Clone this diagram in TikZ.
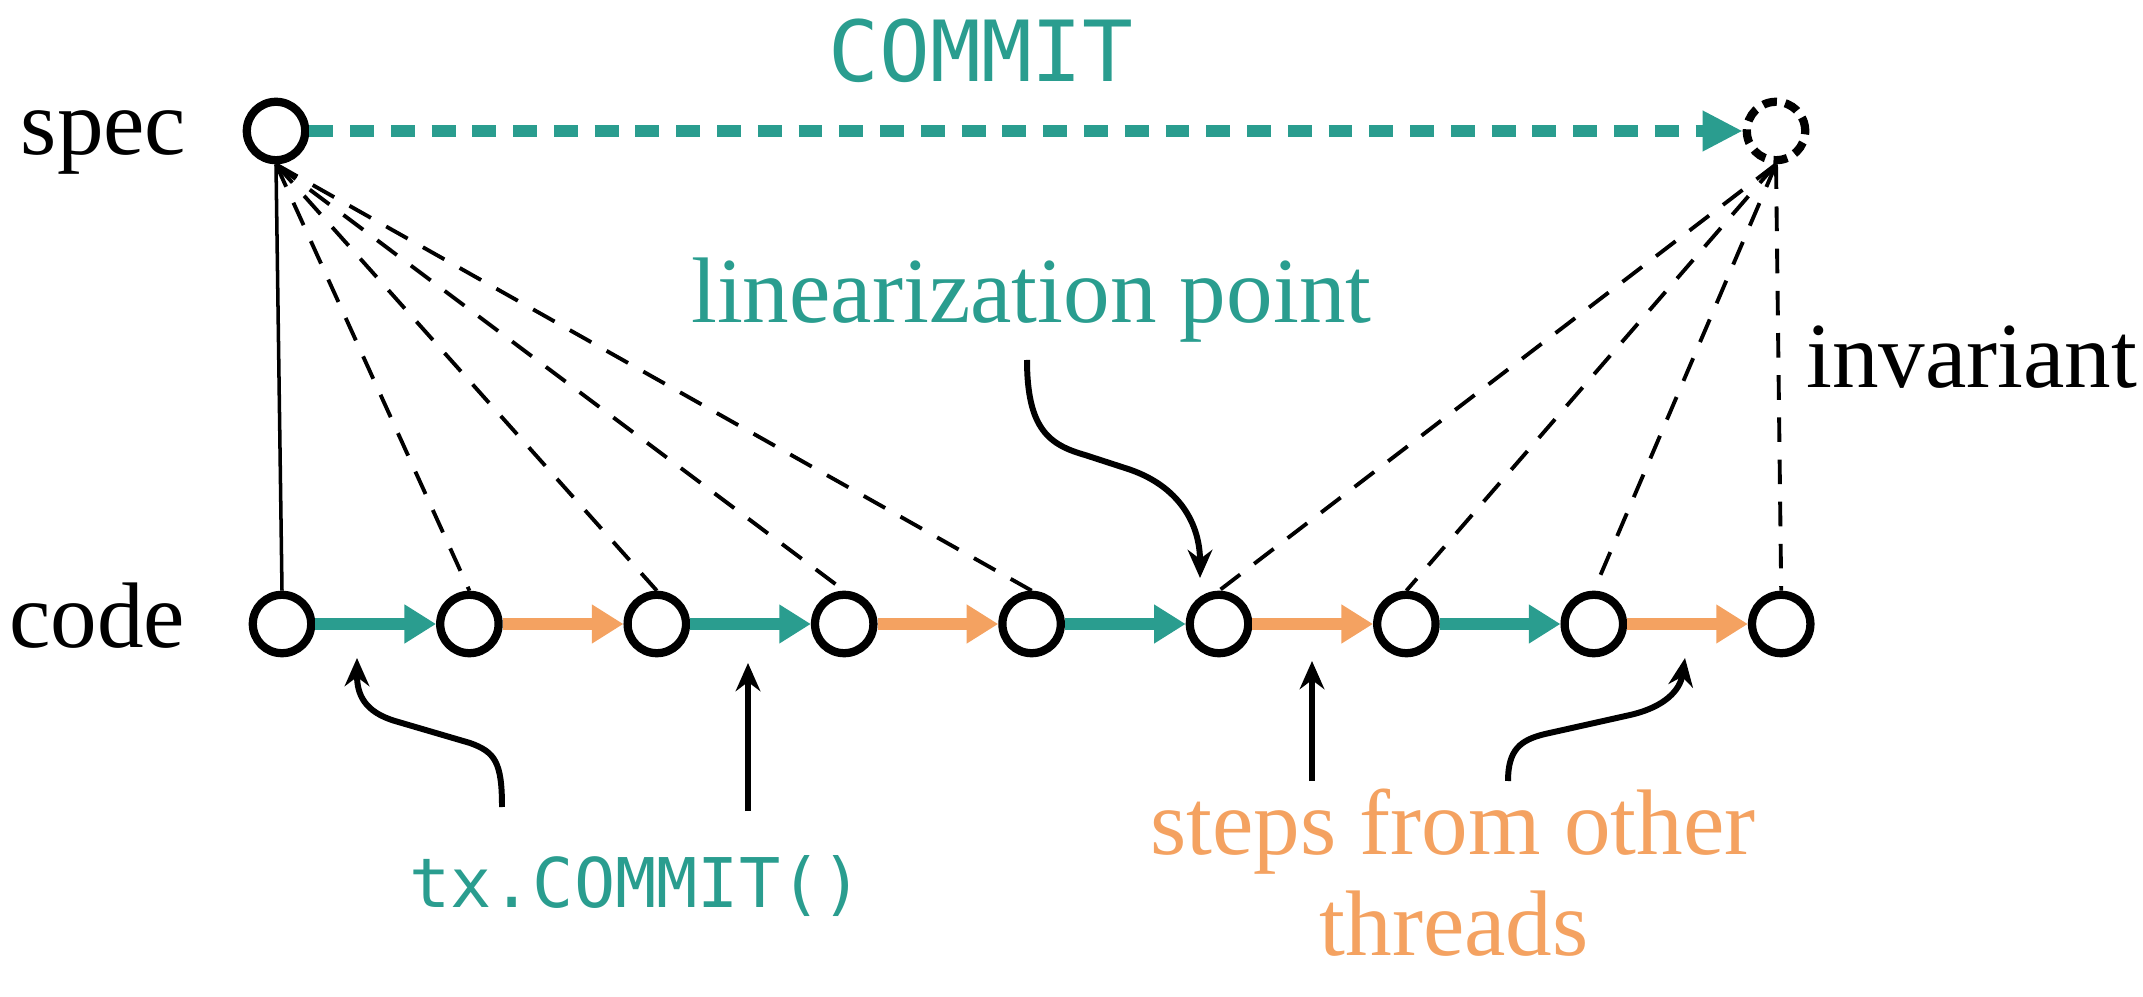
\documentclass[tikz,border=0pt]{standalone}
\usepackage{fontspec}
\setmainfont{Liberation Serif}
\setmonofont{DejaVu Sans Mono}
\definecolor{stepteal}{HTML}{2A9D8F}
\definecolor{steporange}{HTML}{F4A261}
\usetikzlibrary{arrows.meta, positioning, calc}

\begin{document}
\begin{tikzpicture}[
    state/.style={circle, draw, line width=2.35pt, minimum size=0.584cm, inner sep=0pt},
    ghost/.style={state, dash pattern=on 4pt off 2.4pt},
    own/.style={line width=3.6pt, stepteal, -{Triangle[length=9pt,width=10.5pt]}},
    other/.style={own, steporange},
    link/.style={line width=1.1pt, dash pattern=on 7pt off 5pt},
    pointer/.style={line width=1.7pt, -{Stealth[length=8pt,width=7pt]}},
    lbl/.style={font=\fontsize{26.5}{28.7}\selectfont, inner sep=0pt},
    mono/.style={font=\ttfamily\fontsize{19.5}{23}\selectfont, inner sep=0pt, stepteal}
  ]
  \useasboundingbox (0,0) rectangle (21.43,-9.97);

  % States
  \node[state] (spec) at (2.76,-1.31) {};
  \node[ghost] (post) at (17.76,-1.31) {};
  \foreach \i in {1,...,9}
    \node[state] (c\i) at ({2.82+1.874*(\i-1)},-6.24) {};

  % Labels
  \node[lbl, anchor=base east] (spec-lbl) at (1.87,-1.55) {spec};
  \node[lbl, anchor=base east] (code-lbl) at (1.86,-6.48) {code};
  \node[mono, font=\ttfamily\fontsize{24}{28}\selectfont, anchor=base] (commit-lbl) at (9.81,-0.82) {COMMIT};
  \node[lbl, stepteal, anchor=base east] (lin-lbl) at (13.72,-3.23) {linearization point};
  \node[lbl, anchor=base east] (inv-lbl) at (21.38,-3.88) {invariant};
  \node[mono, anchor=base] (tx-lbl) at (6.36,-9.07) {tx.COMMIT()};
  \node[lbl, steporange, anchor=base] (steps-lbl) at (14.53,-8.54) {steps from other};
  \node[lbl, steporange, anchor=base] (threads-lbl) at (14.54,-9.55) {threads};

  % Steps
  \foreach \i/\j/\s in {1/2/own, 2/3/other, 3/4/own, 4/5/other, 5/6/own, 6/7/other, 7/8/own, 8/9/other}
    \draw[\s] (c\i) -- (c\j);

  % Abstraction
  \draw[line width=1pt] (spec.south) -- (c1.north);
  \foreach \i in {2,...,5}
    \draw[link] (spec.south) -- (c\i.north);
  \foreach \i in {6,...,9}
    \draw[link] (post.south) -- (c\i.north);
  \draw[line width=3.3pt, stepteal, dash pattern=on 6.8pt off 4.8pt, -{Triangle[length=11.4pt,width=10.8pt]}] (spec) -- (post);

  % Pointers
  \coordinate (lin-foot) at (10.27,-3.60);
  \coordinate (lin-tip) at (12.00,-5.78);
  \coordinate (tx-foot) at (5.02,-8.07);
  \coordinate (tx-tip) at (3.57,-6.58);
  \coordinate (mid-foot) at (7.48,-8.11);
  \coordinate (mid-tip) at (7.48,-6.63);
  \coordinate (other-foot) at (13.12,-7.81);
  \coordinate (other-tip) at (13.12,-6.61);
  \coordinate (last-foot) at (15.08,-7.81);
  \coordinate (last-tip) at (16.85,-6.58);

  \draw[pointer] (lin-foot) .. controls (10.27,-4.30) and (10.50,-4.45) .. (10.85,-4.55)
    -- (11.25,-4.68) .. controls (11.80,-4.85) and (12.00,-5.25) .. (lin-tip);
  \draw[pointer] (tx-foot) .. controls (5.02,-7.62) and (4.95,-7.52) .. (4.70,-7.43)
    -- (3.95,-7.21) .. controls (3.65,-7.12) and (3.57,-6.95) .. (tx-tip);
  \draw[pointer] (mid-foot) -- (mid-tip);
  \draw[pointer] (other-foot) -- (other-tip);
  \draw[pointer] (last-foot) .. controls (15.08,-7.50) and (15.20,-7.40) .. (15.45,-7.34)
    -- (16.30,-7.15) .. controls (16.65,-7.07) and (16.80,-6.90) .. (last-tip);
\end{tikzpicture}
\end{document}
